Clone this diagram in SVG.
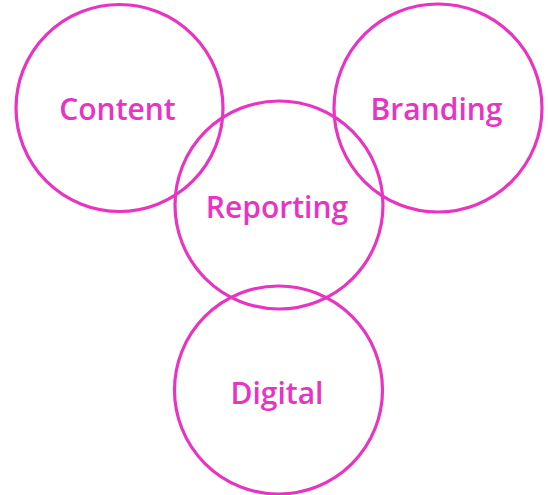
<svg xmlns="http://www.w3.org/2000/svg" width="548" height="495" viewBox="0 0 548 495">
  <style>
    .ring { fill: none; stroke: #E933C2; stroke-width: 3.2; }
    .label { fill: #E933C2; font-family: "Open Sans", "Noto Sans", sans-serif; font-size: 30px; font-weight: 600; text-anchor: middle; }
  </style>
  <rect width="548" height="495" fill="#ffffff"/>
  <g id="content">
    <circle class="ring" cx="119.5" cy="108" r="103.5"/>
    <text class="label" x="117.5" y="120">Content</text>
  </g>
  <g id="branding">
    <circle class="ring" cx="438" cy="108" r="104"/>
    <text class="label" x="436.5" y="120">Branding</text>
  </g>
  <g id="reporting">
    <circle class="ring" cx="279" cy="205" r="104"/>
    <text class="label" x="277" y="218">Reporting</text>
  </g>
  <g id="digital">
    <circle class="ring" cx="278.5" cy="390" r="104"/>
    <text class="label" x="277" y="404">Digital</text>
  </g>
  <g id="connectors"/>
</svg>
